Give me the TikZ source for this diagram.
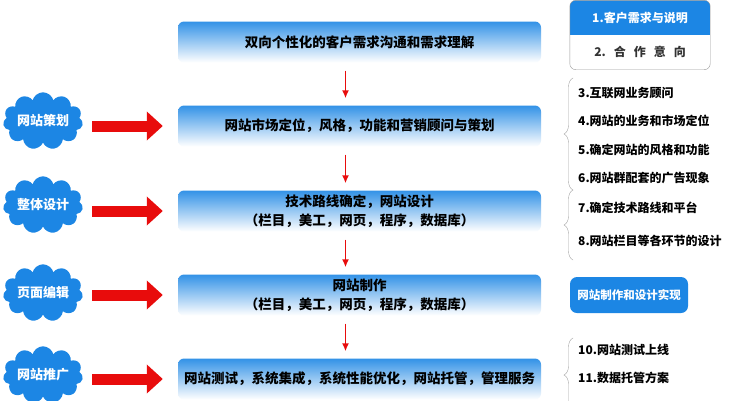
\documentclass[tikz,border=0pt]{standalone}
\usepackage{fontspec}
\setmainfont{Noto Sans CJK SC}
\usetikzlibrary{shapes.symbols,arrows.meta,decorations.pathreplacing}
\definecolor{boxblue}{RGB}{28,134,228}
\definecolor{arrowred}{RGB}{232,12,12}
\definecolor{bracegray}{RGB}{165,165,165}
\tikzset{
  stagebox/.style={rounded corners=6pt,top color=boxblue!90,bottom color=white,minimum width=363pt,minimum height=41pt,align=center,font=\fontsize{13.5}{19}\selectfont\bfseries},
  stagecloud/.style={cloud,cloud puffs=11,aspect=1.7,fill=boxblue,minimum width=76pt,minimum height=46pt,inner sep=0pt,text=white,font=\fontsize{13}{15}\selectfont\bfseries},
  bigarrow/.style={arrowred,line width=11pt,-{Triangle[width=28pt,length=16pt]}},
  downarrow/.style={arrowred,line width=1.5pt,-{Latex[length=8pt,width=7pt]}},
  item/.style={anchor=west,inner sep=0pt,font=\fontsize{12}{14}\selectfont\bfseries},
  curly/.style={bracegray,decorate,decoration={brace,amplitude=9pt}},
}

\begin{document}
\begin{tikzpicture}[x=1pt,y=-1pt,>=latex]
\clip (0,0) rectangle (746,400);
\fill[white] (0,0) rectangle (746,400);

% stages
\foreach \n/\y/\t in {1/42/{双向个性化的客户需求沟通和需求理解},
	2/126/{网站市场定位，风格，功能和营销顾问与策划},
	3/211/{技术路线确定，网站设计\\（栏目，美工，网页，程序，数据库）},
	4/295/{网站制作\\（栏目，美工，网页，程序，数据库）},
	5/379/{网站测试，系统集成，系统性能优化，网站托管，管理服务}}
		{\node[stagebox] (b\n) at (359.5,\y) {\t};
		};
\foreach \a/\b in {1/2,2/3,3/4,4/5}
		{\draw[downarrow,shorten <=8pt,shorten >=7pt] ([xshift=-14pt]b\a.south) -- ([xshift=-14pt]b\b.north);
		};

% clouds
\foreach \n/\y/\t/\to in {1/121/网站策划/2,2/205/整体设计/3,3/293/页面编辑/4,4/375/网站推广/5}
		{\node[stagecloud] (c\n) at (43,\y) {\t};
		\draw[bigarrow,shorten <=10pt,shorten >=15pt] (c\n.east |- b\to.west) -- (b\to.west);
		};

% card
\node[minimum width=140pt,minimum height=69pt] (card) at (640,35) {};
\begin{scope}
	\clip[rounded corners=6pt] (card.north west) rectangle (card.south east);
	\fill[boxblue] (card.north west) rectangle (card.east);
\end{scope}
\draw[gray!80,rounded corners=6pt] (card.north west) rectangle (card.south east);
\node[text=white,font=\fontsize{12}{14}\selectfont\bfseries] (need) at (640,18) {1.客户需求与说明};
\node[font=\fontsize{12}{14}\selectfont\bfseries,text=black!80] (intent) at (640,52) {2.\hspace{8pt}合\hspace{8pt}作\hspace{8pt}意\hspace{8pt}向};

% items
\foreach \n/\y/\t in {3/93/互联网业务顾问,4/121/网站的业务和市场定位,5/150/确定网站的风格和功能,6/178/网站群配套的广告现象,7/208/确定技术路线和平台,8/241/网站栏目等各环节的设计,10/350/网站测试上线,11/378/数据托管方案}
		{\node[item] (i\n) at (578,\y) {\n.\t};
		};
\draw[curly] (573,190) -- (573,78);
\draw[curly] (573,260) -- (573,190);
\draw[curly] (573,412) -- (573,338);

\node[fill=boxblue,rounded corners=7pt,minimum width=118pt,minimum height=36pt,text=white,font=\fontsize{11.5}{14}\selectfont\bfseries] (real) at (629,295) {网站制作和设计实现};
\end{tikzpicture}
\end{document}
